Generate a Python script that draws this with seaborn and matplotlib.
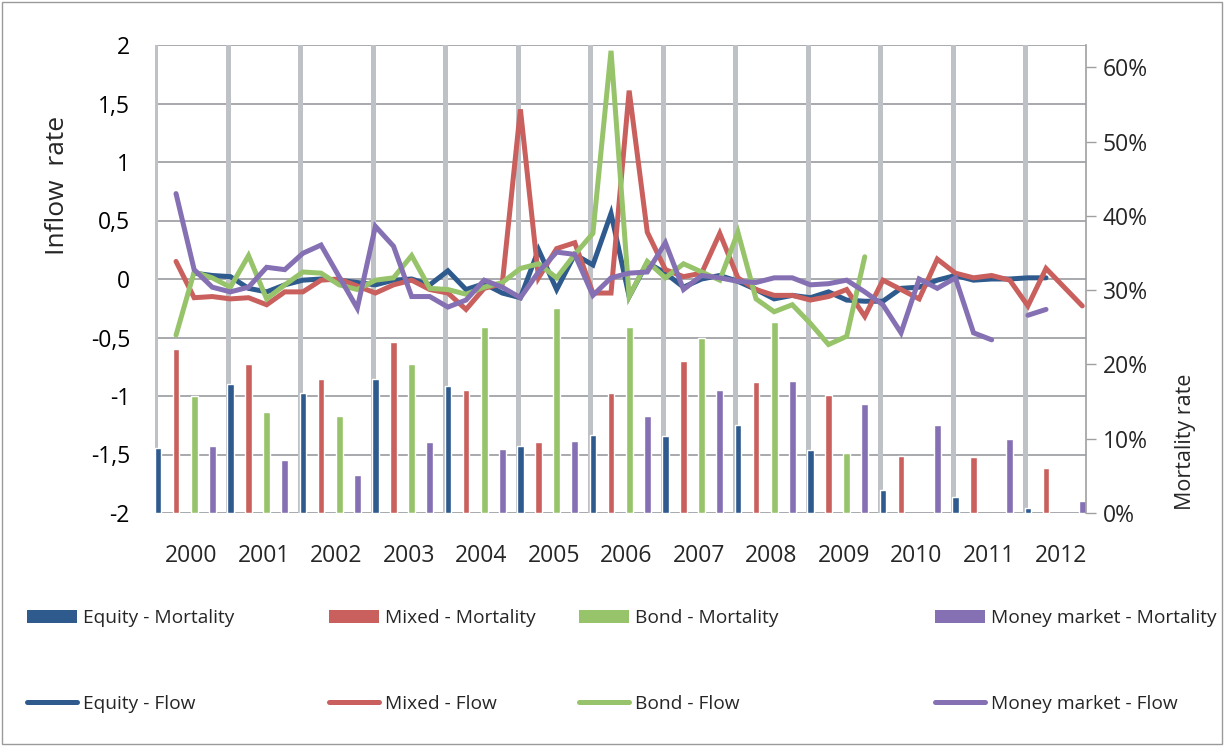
import numpy as np
import pandas as pd
import matplotlib
matplotlib.use("Agg")
import matplotlib.pyplot as plt
import seaborn as sns
from matplotlib.patches import Patch, Rectangle
from matplotlib.lines import Line2D
from matplotlib.ticker import FuncFormatter

# ---------------- data ----------------
years = [2000, 2001, 2002, 2003, 2004, 2005, 2006, 2007, 2008, 2009, 2010, 2011, 2012]

# yearly mortality rates (right axis)
equity_mort = [0.087, 0.173, 0.161, 0.181, 0.171, 0.090, 0.105, 0.104, 0.119, 0.085, 0.031, 0.021, 0.007]
mixed_mort  = [0.221, 0.200, 0.181, 0.230, 0.166, 0.095, 0.162, 0.205, 0.176, 0.159, 0.077, 0.075, 0.061]
bond_mort   = [0.158, 0.136, 0.131, 0.200, 0.250, 0.276, 0.250, 0.236, 0.257, 0.081, None, None, None]
money_mort  = [0.090, 0.071, 0.051, 0.095, 0.086, 0.097, 0.131, 0.166, 0.178, 0.147, 0.118, 0.100, 0.016]

# quarterly inflow rates (left axis), 2000Q1 .. 2012Q4
N = None
equity_flow = [N, N, 0.05, 0.03, 0.02, -0.08, -0.11, -0.05, -0.01, 0.00, -0.01, -0.03, -0.05,
               -0.01, 0.00, -0.05, 0.07, -0.09, -0.04, -0.12, -0.16, 0.25, -0.09, 0.21, 0.12,
               0.56, -0.15, 0.14, 0.05, -0.07, 0.00, 0.03, -0.02, -0.09, -0.17, -0.14, -0.16,
               -0.11, -0.18, -0.19, -0.19, -0.08, -0.07, -0.01, 0.03, -0.01, 0.00, 0.00, 0.01,
               0.01, N, N]
mixed_flow = [N, 0.15, -0.16, -0.15, -0.17, -0.16, -0.22, -0.11, -0.11, -0.01, 0.00, -0.06, -0.12,
              -0.05, -0.01, -0.09, -0.12, -0.26, -0.08, -0.04, 1.45, 0.01, 0.26, 0.31, -0.12,
              -0.12, 1.61, 0.40, 0.08, 0.02, 0.05, 0.39, 0.01, -0.09, -0.14, -0.14, -0.18,
              -0.15, -0.09, -0.32, -0.01, -0.09, -0.17, 0.17, 0.05, 0.01, 0.03, -0.01, -0.23,
              0.09, -0.07, -0.23]
bond_flow = [N, -0.48, 0.06, 0.01, -0.07, 0.20, -0.17, -0.05, 0.06, 0.05, -0.05, -0.09, -0.01,
             0.01, 0.20, -0.08, -0.09, -0.13, -0.07, -0.03, 0.09, 0.13, 0.01, 0.21, 0.39,
             1.95, -0.15, 0.15, 0.01, 0.13, 0.06, -0.01, 0.40, -0.17, -0.28, -0.22, -0.38,
             -0.56, -0.49, 0.19, N, N, N, N, N, N, N, N, N, N, N, N]
money_flow = [N, 0.73, 0.08, -0.07, -0.11, -0.07, 0.10, 0.08, 0.22, 0.29, 0.02, -0.25, 0.45,
              0.28, -0.15, -0.15, -0.24, -0.18, -0.01, -0.07, -0.16, 0.06, 0.23, 0.21, -0.14,
              0.01, 0.05, 0.06, 0.31, -0.09, 0.03, 0.01, -0.02, -0.03, 0.01, 0.01, -0.05,
              -0.04, -0.01, -0.11, -0.22, -0.46, 0.00, -0.08, 0.01, -0.46, -0.52, N, -0.31,
              -0.26, N, N]

series = ["Equity", "Mixed", "Bond", "Money market"]
colors = {"Equity": "#2E5A8E", "Mixed": "#C9605D", "Bond": "#97C46A", "Money market": "#8570B3"}
left_ticks = [-2, -1.5, -1, -0.5, 0, 0.5, 1, 1.5, 2]
right_ticks = [0, 0.1, 0.2, 0.3, 0.4, 0.5, 0.6]

# ---------------- figure ----------------
sns.set_theme(style="white")
plt.rcParams["font.family"] = ["Open Sans", "DejaVu Sans"]

W, H = 1224, 746
fig = plt.figure(figsize=(W / 100, H / 100), dpi=100)
fig.patch.set_facecolor("white")
ax2 = fig.add_axes([155 / W, 1 - 513 / H, (1086 - 155) / W, (513 - 45) / H])  # bars (right axis)
ax = ax2.twinx()  # lines (left axis) - drawn on top
ax.yaxis.tick_left()
ax.yaxis.set_label_position("left")
ax2.yaxis.tick_right()
ax2.yaxis.set_label_position("right")

XMAX = (1086 - 155) / 72.5
RMAX = 0.63
OFF = 0.04
QW = 0.25

# grid on the lower (bar) axes
for v in left_ticks:
    ax2.axhline(RMAX * (v + 2) / 4, color="#A7A9AC", lw=1.4, zorder=0)
for i in range(len(years)):
    ax2.axvline(i, color="#BEC1C5", lw=3.6, zorder=0)

# bars
mort = {"Equity": equity_mort, "Mixed": mixed_mort, "Bond": bond_mort, "Money market": money_mort}
for j, s in enumerate(series):
    vals = mort[s]
    xs = [i + OFF + QW * j for i, v in enumerate(vals) if v is not None]
    ys = [v for v in vals if v is not None]
    sns.barplot(x=xs, y=ys, native_scale=True, width=0.093, color=colors[s],
                saturation=1, errorbar=None, ax=ax2, zorder=2)

# lines
flows = {"Equity": equity_flow, "Mixed": mixed_flow, "Bond": bond_flow, "Money market": money_flow}
rows = []
for s in series:
    seg = 0
    prev_none = True
    for k, v in enumerate(flows[s]):
        if v is None:
            prev_none = True
            continue
        if prev_none:
            seg += 1
            prev_none = False
        rows.append({"pos": OFF + QW * k, "flow": v, "series": s, "seg": f"{s}{seg}"})
df = pd.DataFrame(rows)
sns.lineplot(data=df, x="pos", y="flow", hue="series", units="seg", estimator=None,
             palette=colors, hue_order=series, lw=3.6, legend=False, ax=ax, sort=False,
             solid_joinstyle="miter")

ax.set_zorder(ax2.get_zorder() + 1)
ax.patch.set_visible(False)

# axes limits / ticks
for a in (ax, ax2):
    a.set_xlim(0, XMAX)
    a.set_xlabel("")
    a.set_ylabel("")
ax.set_ylim(-2, 2)
ax2.set_ylim(0, RMAX)

ax.set_yticks(left_ticks)
ax.yaxis.set_major_formatter(FuncFormatter(lambda v, p: f"{v:g}".replace(".", ",")))
ax.tick_params(axis="y", length=0, pad=18, labelsize=16.5, colors="#000000", left=False, right=False,
               labelleft=True, labelright=False)

ax2.set_yticks(right_ticks)
ax2.yaxis.set_major_formatter(FuncFormatter(lambda v, p: f"{v * 100:.0f}%"))
ax2.tick_params(axis="y", length=7, width=1, color="#A0A0A0", direction="out", pad=5, labelsize=16.5,
                right=True, left=False, labelright=True, labelleft=False)

ax2.set_xticks([i + 0.5 for i in range(len(years))])
ax2.set_xticklabels([str(y) for y in years])
ax2.tick_params(axis="x", length=0, pad=22, labelsize=16.5, bottom=True)
ax.tick_params(axis="x", length=0, labelbottom=False)

for a in (ax, ax2):
    for sp in a.spines.values():
        sp.set_visible(False)
ax2.spines["right"].set_visible(True)
ax2.spines["right"].set_color("#A0A0A0")
ax2.spines["right"].set_linewidth(1.2)

# axis titles
fig.text(57 / W, 1 - 185 / H, "Inflow  rate", rotation=90, ha="center", va="center", fontsize=19)
fig.text(1185 / W, 1 - 442 / H, "Mortality rate", rotation=90, ha="center", va="center", fontsize=15.5)

# legend entries
xs_leg = [20, 322, 572, 928]
for j, s in enumerate(series):
    h = Patch(facecolor=colors[s], edgecolor="none")
    fig.legend([h], [f"{s} - Mortality"], loc="center left",
               bbox_to_anchor=(xs_leg[j] / W - 0.008, 1 - 618 / H), frameon=False,
               fontsize=13.8, handlelength=2.6, handleheight=0.7, handletextpad=0.3)
    l = Line2D([0], [0], color=colors[s], lw=3.6)
    fig.legend([l], [f"{s} - Flow"], loc="center left",
               bbox_to_anchor=(xs_leg[j] / W - 0.008, 1 - 704 / H), frameon=False,
               fontsize=13.8, handlelength=2.6, handletextpad=0.3)

# chart-area border
fig.add_artist(Rectangle((2 / W, 2 / H), 1 - 4 / W, 1 - 4 / H, transform=fig.transFigure,
                         fill=False, edgecolor="#9A9A9A", lw=1.0))

fig.savefig("out.png", dpi=100)
